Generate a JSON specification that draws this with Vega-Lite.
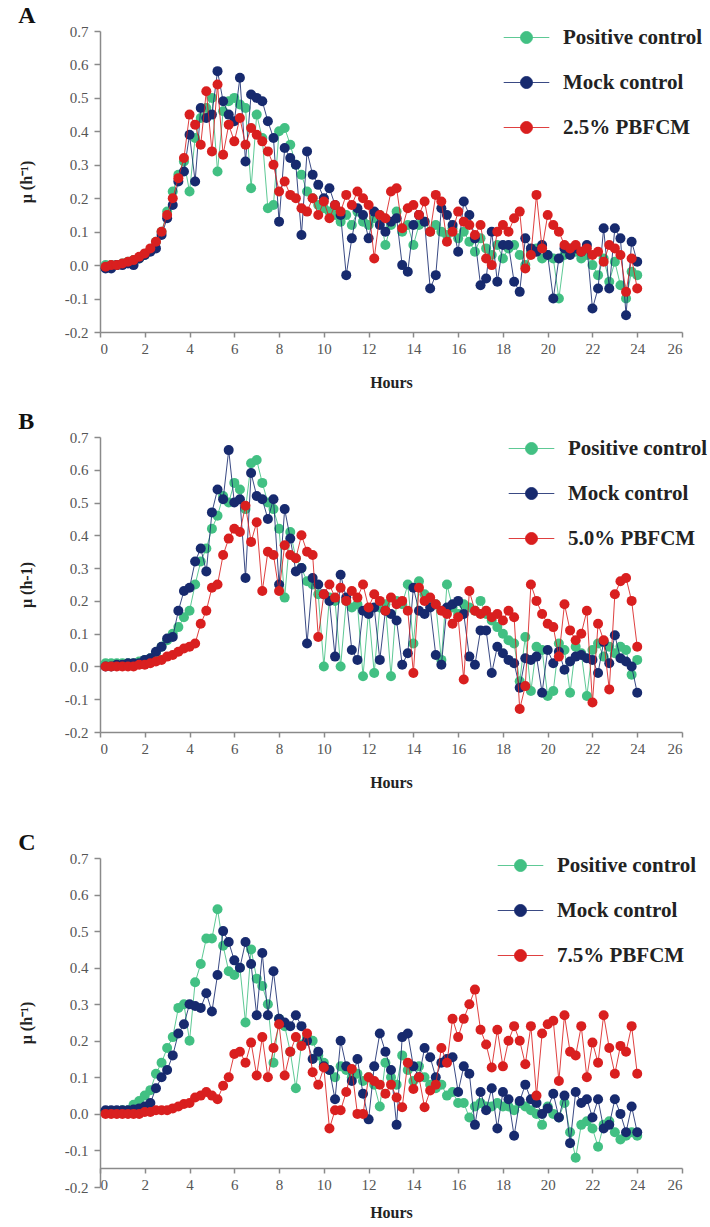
{
"$schema": "https://vega.github.io/schema/vega-lite/v6.json",
"background": "white",
"padding": {"left": 18, "top": 4, "right": 0, "bottom": 0},
"config": {
 "view": {"stroke": null},
 "font": "Liberation Serif",
 "title": {"font": "Liberation Serif", "fontSize": 24, "fontWeight": "bold", "anchor": "start", "frame": "bounds", "color": "#111", "offset": -4},
 "axis": {"grid": false, "domainColor": "#8a8a8a", "domainWidth": 1.5, "tickColor": "#8a8a8a", "tickWidth": 1.5, "tickSize": 5, "labelFont": "Liberation Serif", "labelFontSize": 15, "labelColor": "#555", "titleFont": "Liberation Serif", "titleFontSize": 16, "titleFontWeight": "bold", "titleColor": "#222"},
 "axisX": {"labelPadding": 4, "titlePadding": 18},
 "axisY": {"titlePadding": 30, "labelPadding": 6, "tickSize": 6},
 "legend": {"labelFont": "Liberation Serif", "labelFontSize": 21, "labelFontWeight": "bold", "labelColor": "#222", "labelOffset": 26, "rowPadding": 23, "symbolStrokeWidth": 2},
 "line": {"strokeWidth": 1, "strokeOpacity": 0.85}
},
"spacing": 20,
"resolve": {"scale": {"color": "independent"}, "legend": {"color": "independent"}},
"datasets": {
"A_pos": [{"h":0.25,"mu":0},{"h":0.5,"mu":0},{"h":0.75,"mu":0},{"h":1,"mu":0.005},{"h":1.25,"mu":0.01},{"h":1.5,"mu":0.015},{"h":1.75,"mu":0.02},{"h":2,"mu":0.03},{"h":2.25,"mu":0.045},{"h":2.5,"mu":0.07},{"h":2.75,"mu":0.1},{"h":3,"mu":0.16},{"h":3.25,"mu":0.22},{"h":3.5,"mu":0.27},{"h":3.75,"mu":0.31},{"h":4,"mu":0.22},{"h":4.25,"mu":0.38},{"h":4.5,"mu":0.44},{"h":4.75,"mu":0.47},{"h":5,"mu":0.5},{"h":5.25,"mu":0.28},{"h":5.5,"mu":0.46},{"h":5.75,"mu":0.49},{"h":6,"mu":0.5},{"h":6.25,"mu":0.48},{"h":6.5,"mu":0.47},{"h":6.75,"mu":0.23},{"h":7,"mu":0.45},{"h":7.25,"mu":0.38},{"h":7.5,"mu":0.17},{"h":7.75,"mu":0.18},{"h":8,"mu":0.4},{"h":8.25,"mu":0.41},{"h":8.5,"mu":0.36},{"h":8.75,"mu":0.3},{"h":9,"mu":0.27},{"h":9.25,"mu":0.22},{"h":9.5,"mu":0.2},{"h":9.75,"mu":0.18},{"h":10,"mu":0.17},{"h":10.25,"mu":0.16},{"h":10.5,"mu":0.15},{"h":10.75,"mu":0.13},{"h":11,"mu":0.15},{"h":11.25,"mu":0.12},{"h":11.5,"mu":0.16},{"h":11.75,"mu":0.13},{"h":12,"mu":0.12},{"h":12.25,"mu":0.14},{"h":12.5,"mu":0.15},{"h":12.75,"mu":0.06},{"h":13,"mu":0.12},{"h":13.25,"mu":0.16},{"h":13.5,"mu":0.1},{"h":13.75,"mu":0.12},{"h":14,"mu":0.06},{"h":14.25,"mu":0.12},{"h":14.5,"mu":0.13},{"h":14.75,"mu":0.1},{"h":15,"mu":0.12},{"h":15.25,"mu":0.1},{"h":15.5,"mu":0.09},{"h":15.75,"mu":0.11},{"h":16,"mu":0.08},{"h":16.25,"mu":0.1},{"h":16.5,"mu":0.07},{"h":16.75,"mu":0.04},{"h":17,"mu":0.08},{"h":17.25,"mu":0.05},{"h":17.5,"mu":0.03},{"h":17.75,"mu":0.06},{"h":18,"mu":0.02},{"h":18.25,"mu":0.05},{"h":18.5,"mu":0.06},{"h":18.75,"mu":0.03},{"h":19,"mu":0},{"h":19.25,"mu":0.04},{"h":19.5,"mu":0.05},{"h":19.75,"mu":0.02},{"h":20,"mu":0.03},{"h":20.25,"mu":0.02},{"h":20.5,"mu":-0.1},{"h":20.75,"mu":0.03},{"h":21,"mu":0.05},{"h":21.25,"mu":0.04},{"h":21.5,"mu":0.02},{"h":21.75,"mu":0.03},{"h":22,"mu":0},{"h":22.25,"mu":-0.03},{"h":22.5,"mu":0.02},{"h":22.75,"mu":-0.05},{"h":23,"mu":0.01},{"h":23.25,"mu":-0.06},{"h":23.5,"mu":-0.1},{"h":23.75,"mu":-0.02},{"h":24,"mu":-0.03}],
"A_mock": [{"h":0.25,"mu":-0.01},{"h":0.5,"mu":-0.01},{"h":0.75,"mu":0},{"h":1,"mu":0},{"h":1.25,"mu":0.005},{"h":1.5,"mu":0},{"h":1.75,"mu":0.02},{"h":2,"mu":0.03},{"h":2.25,"mu":0.04},{"h":2.5,"mu":0.05},{"h":2.75,"mu":0.09},{"h":3,"mu":0.14},{"h":3.25,"mu":0.18},{"h":3.5,"mu":0.25},{"h":3.75,"mu":0.28},{"h":4,"mu":0.39},{"h":4.25,"mu":0.25},{"h":4.5,"mu":0.47},{"h":4.75,"mu":0.44},{"h":5,"mu":0.45},{"h":5.25,"mu":0.58},{"h":5.5,"mu":0.49},{"h":5.75,"mu":0.45},{"h":6,"mu":0.43},{"h":6.25,"mu":0.56},{"h":6.5,"mu":0.31},{"h":6.75,"mu":0.51},{"h":7,"mu":0.5},{"h":7.25,"mu":0.49},{"h":7.5,"mu":0.43},{"h":7.75,"mu":0.38},{"h":8,"mu":0.13},{"h":8.25,"mu":0.35},{"h":8.5,"mu":0.32},{"h":8.75,"mu":0.3},{"h":9,"mu":0.09},{"h":9.25,"mu":0.34},{"h":9.5,"mu":0.27},{"h":9.75,"mu":0.24},{"h":10,"mu":0.2},{"h":10.25,"mu":0.23},{"h":10.5,"mu":0.18},{"h":10.75,"mu":0.15},{"h":11,"mu":-0.03},{"h":11.25,"mu":0.08},{"h":11.5,"mu":0.17},{"h":11.75,"mu":0.15},{"h":12,"mu":0.08},{"h":12.25,"mu":0.16},{"h":12.5,"mu":0.12},{"h":12.75,"mu":0.1},{"h":13,"mu":0.13},{"h":13.25,"mu":0.14},{"h":13.5,"mu":0},{"h":13.75,"mu":-0.02},{"h":14,"mu":0.12},{"h":14.25,"mu":0.15},{"h":14.5,"mu":0.13},{"h":14.75,"mu":-0.07},{"h":15,"mu":-0.03},{"h":15.25,"mu":0.17},{"h":15.5,"mu":0.15},{"h":15.75,"mu":0.12},{"h":16,"mu":0.04},{"h":16.25,"mu":0.19},{"h":16.5,"mu":0.15},{"h":16.75,"mu":0.08},{"h":17,"mu":-0.06},{"h":17.25,"mu":-0.04},{"h":17.5,"mu":0.1},{"h":17.75,"mu":-0.05},{"h":18,"mu":0.06},{"h":18.25,"mu":0.06},{"h":18.5,"mu":-0.05},{"h":18.75,"mu":-0.08},{"h":19,"mu":0.08},{"h":19.25,"mu":0.05},{"h":19.5,"mu":0.04},{"h":19.75,"mu":0.06},{"h":20,"mu":0.03},{"h":20.25,"mu":-0.1},{"h":20.5,"mu":0.02},{"h":20.75,"mu":0.05},{"h":21,"mu":0.03},{"h":21.25,"mu":0.05},{"h":21.5,"mu":0.04},{"h":21.75,"mu":0.06},{"h":22,"mu":-0.13},{"h":22.25,"mu":-0.07},{"h":22.5,"mu":0.11},{"h":22.75,"mu":-0.07},{"h":23,"mu":0.11},{"h":23.25,"mu":0.08},{"h":23.5,"mu":-0.15},{"h":23.75,"mu":0.07},{"h":24,"mu":0.01}],
"A_pbf": [{"h":0.25,"mu":-0.005},{"h":0.5,"mu":0},{"h":0.75,"mu":0},{"h":1,"mu":0.005},{"h":1.25,"mu":0.01},{"h":1.5,"mu":0.015},{"h":1.75,"mu":0.025},{"h":2,"mu":0.035},{"h":2.25,"mu":0.05},{"h":2.5,"mu":0.07},{"h":2.75,"mu":0.1},{"h":3,"mu":0.15},{"h":3.25,"mu":0.2},{"h":3.5,"mu":0.26},{"h":3.75,"mu":0.32},{"h":4,"mu":0.45},{"h":4.25,"mu":0.42},{"h":4.5,"mu":0.36},{"h":4.75,"mu":0.52},{"h":5,"mu":0.34},{"h":5.25,"mu":0.54},{"h":5.5,"mu":0.33},{"h":5.75,"mu":0.42},{"h":6,"mu":0.37},{"h":6.25,"mu":0.44},{"h":6.5,"mu":0.36},{"h":6.75,"mu":0.41},{"h":7,"mu":0.39},{"h":7.25,"mu":0.37},{"h":7.5,"mu":0.34},{"h":7.75,"mu":0.3},{"h":8,"mu":0.22},{"h":8.25,"mu":0.25},{"h":8.5,"mu":0.21},{"h":8.75,"mu":0.2},{"h":9,"mu":0.17},{"h":9.25,"mu":0.16},{"h":9.5,"mu":0.2},{"h":9.75,"mu":0.15},{"h":10,"mu":0.19},{"h":10.25,"mu":0.14},{"h":10.5,"mu":0.18},{"h":10.75,"mu":0.16},{"h":11,"mu":0.21},{"h":11.25,"mu":0.18},{"h":11.5,"mu":0.22},{"h":11.75,"mu":0.2},{"h":12,"mu":0.18},{"h":12.25,"mu":0.02},{"h":12.5,"mu":0.15},{"h":12.75,"mu":0.14},{"h":13,"mu":0.22},{"h":13.25,"mu":0.23},{"h":13.5,"mu":0.11},{"h":13.75,"mu":0.17},{"h":14,"mu":0.18},{"h":14.25,"mu":0.15},{"h":14.5,"mu":0.19},{"h":14.75,"mu":0.1},{"h":15,"mu":0.21},{"h":15.25,"mu":0.19},{"h":15.5,"mu":0.07},{"h":15.75,"mu":0.1},{"h":16,"mu":0.16},{"h":16.25,"mu":0.13},{"h":16.5,"mu":0.12},{"h":16.75,"mu":0.09},{"h":17,"mu":0.12},{"h":17.25,"mu":0.02},{"h":17.5,"mu":0},{"h":17.75,"mu":0.1},{"h":18,"mu":0.12},{"h":18.25,"mu":0.1},{"h":18.5,"mu":0.14},{"h":18.75,"mu":0.16},{"h":19,"mu":-0.01},{"h":19.25,"mu":0.03},{"h":19.5,"mu":0.21},{"h":19.75,"mu":0.05},{"h":20,"mu":0.15},{"h":20.25,"mu":0.12},{"h":20.5,"mu":0.1},{"h":20.75,"mu":0.06},{"h":21,"mu":0.05},{"h":21.25,"mu":0.06},{"h":21.5,"mu":0.04},{"h":21.75,"mu":0.05},{"h":22,"mu":0.03},{"h":22.25,"mu":0.04},{"h":22.5,"mu":0.01},{"h":22.75,"mu":0.06},{"h":23,"mu":0.05},{"h":23.25,"mu":0.03},{"h":23.5,"mu":-0.08},{"h":23.75,"mu":0.02},{"h":24,"mu":-0.07}],
"B_pos": [{"h":0.25,"mu":0.01},{"h":0.5,"mu":0.01},{"h":0.75,"mu":0.01},{"h":1,"mu":0.01},{"h":1.25,"mu":0.01},{"h":1.5,"mu":0.01},{"h":1.75,"mu":0.015},{"h":2,"mu":0.02},{"h":2.25,"mu":0.025},{"h":2.5,"mu":0.04},{"h":2.75,"mu":0.06},{"h":3,"mu":0.08},{"h":3.25,"mu":0.1},{"h":3.5,"mu":0.12},{"h":3.75,"mu":0.15},{"h":4,"mu":0.17},{"h":4.25,"mu":0.25},{"h":4.5,"mu":0.32},{"h":4.75,"mu":0.36},{"h":5,"mu":0.42},{"h":5.25,"mu":0.46},{"h":5.5,"mu":0.52},{"h":5.75,"mu":0.5},{"h":6,"mu":0.56},{"h":6.25,"mu":0.54},{"h":6.5,"mu":0.48},{"h":6.75,"mu":0.62},{"h":7,"mu":0.63},{"h":7.25,"mu":0.56},{"h":7.5,"mu":0.5},{"h":7.75,"mu":0.48},{"h":8,"mu":0.42},{"h":8.25,"mu":0.21},{"h":8.5,"mu":0.41},{"h":8.75,"mu":0.33},{"h":9,"mu":0.3},{"h":9.25,"mu":0.26},{"h":9.5,"mu":0.25},{"h":9.75,"mu":0.22},{"h":10,"mu":0},{"h":10.25,"mu":0.21},{"h":10.5,"mu":0.2},{"h":10.75,"mu":0},{"h":11,"mu":0.2},{"h":11.25,"mu":0.18},{"h":11.5,"mu":0.19},{"h":11.75,"mu":-0.03},{"h":12,"mu":0.17},{"h":12.25,"mu":-0.02},{"h":12.5,"mu":0.18},{"h":12.75,"mu":0.19},{"h":13,"mu":-0.03},{"h":13.25,"mu":0.2},{"h":13.5,"mu":0.19},{"h":13.75,"mu":0.25},{"h":14,"mu":0.07},{"h":14.25,"mu":0.26},{"h":14.5,"mu":0.22},{"h":14.75,"mu":0.2},{"h":15,"mu":0.19},{"h":15.25,"mu":0.02},{"h":15.5,"mu":0.25},{"h":15.75,"mu":0.18},{"h":16,"mu":0.16},{"h":16.25,"mu":0.19},{"h":16.5,"mu":0.18},{"h":16.75,"mu":0.17},{"h":17,"mu":0.2},{"h":17.25,"mu":0.16},{"h":17.5,"mu":0.14},{"h":17.75,"mu":0.12},{"h":18,"mu":0.1},{"h":18.25,"mu":0.08},{"h":18.5,"mu":0.07},{"h":18.75,"mu":-0.045},{"h":19,"mu":0.09},{"h":19.25,"mu":-0.075},{"h":19.5,"mu":0.06},{"h":19.75,"mu":0.05},{"h":20,"mu":-0.09},{"h":20.25,"mu":-0.075},{"h":20.5,"mu":0.07},{"h":20.75,"mu":0.05},{"h":21,"mu":-0.08},{"h":21.25,"mu":0.06},{"h":21.5,"mu":0.04},{"h":21.75,"mu":-0.09},{"h":22,"mu":0.05},{"h":22.25,"mu":0.07},{"h":22.5,"mu":0.03},{"h":22.75,"mu":0.06},{"h":23,"mu":0.04},{"h":23.25,"mu":0.06},{"h":23.5,"mu":0.05},{"h":23.75,"mu":-0.025},{"h":24,"mu":0.02}],
"B_mock": [{"h":0.25,"mu":0},{"h":0.5,"mu":0},{"h":0.75,"mu":0.005},{"h":1,"mu":0.005},{"h":1.25,"mu":0.01},{"h":1.5,"mu":0.01},{"h":1.75,"mu":0.01},{"h":2,"mu":0.02},{"h":2.25,"mu":0.025},{"h":2.5,"mu":0.045},{"h":2.75,"mu":0.06},{"h":3,"mu":0.085},{"h":3.25,"mu":0.09},{"h":3.5,"mu":0.17},{"h":3.75,"mu":0.23},{"h":4,"mu":0.24},{"h":4.25,"mu":0.32},{"h":4.5,"mu":0.36},{"h":4.75,"mu":0.29},{"h":5,"mu":0.47},{"h":5.25,"mu":0.54},{"h":5.5,"mu":0.51},{"h":5.75,"mu":0.66},{"h":6,"mu":0.5},{"h":6.25,"mu":0.51},{"h":6.5,"mu":0.27},{"h":6.75,"mu":0.59},{"h":7,"mu":0.52},{"h":7.25,"mu":0.51},{"h":7.5,"mu":0.45},{"h":7.75,"mu":0.51},{"h":8,"mu":0.25},{"h":8.25,"mu":0.48},{"h":8.5,"mu":0.39},{"h":8.75,"mu":0.29},{"h":9,"mu":0.3},{"h":9.25,"mu":0.07},{"h":9.5,"mu":0.27},{"h":9.75,"mu":0.25},{"h":10,"mu":0.22},{"h":10.25,"mu":0.2},{"h":10.5,"mu":0.03},{"h":10.75,"mu":0.28},{"h":11,"mu":0.21},{"h":11.25,"mu":0.05},{"h":11.5,"mu":0.02},{"h":11.75,"mu":0.17},{"h":12,"mu":0.16},{"h":12.25,"mu":0.18},{"h":12.5,"mu":0.02},{"h":12.75,"mu":0.17},{"h":13,"mu":0.16},{"h":13.25,"mu":0.14},{"h":13.5,"mu":0.005},{"h":13.75,"mu":0.04},{"h":14,"mu":0.24},{"h":14.25,"mu":0.17},{"h":14.5,"mu":0.16},{"h":14.75,"mu":0.18},{"h":15,"mu":0.035},{"h":15.25,"mu":0.005},{"h":15.5,"mu":0.18},{"h":15.75,"mu":0.19},{"h":16,"mu":0.2},{"h":16.25,"mu":0.16},{"h":16.5,"mu":0.03},{"h":16.75,"mu":0.005},{"h":17,"mu":0.11},{"h":17.25,"mu":0.11},{"h":17.5,"mu":-0.02},{"h":17.75,"mu":0.06},{"h":18,"mu":0.04},{"h":18.25,"mu":0.02},{"h":18.5,"mu":0.01},{"h":18.75,"mu":-0.065},{"h":19,"mu":0.025},{"h":19.25,"mu":0.02},{"h":19.5,"mu":0.03},{"h":19.75,"mu":-0.08},{"h":20,"mu":0.05},{"h":20.25,"mu":0.01},{"h":20.5,"mu":0.045},{"h":20.75,"mu":-0.01},{"h":21,"mu":0.015},{"h":21.25,"mu":0.03},{"h":21.5,"mu":0.035},{"h":21.75,"mu":0.025},{"h":22,"mu":0.02},{"h":22.25,"mu":-0.02},{"h":22.5,"mu":0.075},{"h":22.75,"mu":0.01},{"h":23,"mu":0.095},{"h":23.25,"mu":0.025},{"h":23.5,"mu":0.015},{"h":23.75,"mu":0},{"h":24,"mu":-0.08}],
"B_pbf": [{"h":0.25,"mu":0},{"h":0.5,"mu":0},{"h":0.75,"mu":0},{"h":1,"mu":0},{"h":1.25,"mu":0},{"h":1.5,"mu":0},{"h":1.75,"mu":0.005},{"h":2,"mu":0.005},{"h":2.25,"mu":0.01},{"h":2.5,"mu":0.015},{"h":2.75,"mu":0.02},{"h":3,"mu":0.03},{"h":3.25,"mu":0.035},{"h":3.5,"mu":0.045},{"h":3.75,"mu":0.055},{"h":4,"mu":0.06},{"h":4.25,"mu":0.07},{"h":4.5,"mu":0.13},{"h":4.75,"mu":0.17},{"h":5,"mu":0.24},{"h":5.25,"mu":0.25},{"h":5.5,"mu":0.34},{"h":5.75,"mu":0.39},{"h":6,"mu":0.42},{"h":6.25,"mu":0.41},{"h":6.5,"mu":0.49},{"h":6.75,"mu":0.38},{"h":7,"mu":0.44},{"h":7.25,"mu":0.23},{"h":7.5,"mu":0.35},{"h":7.75,"mu":0.34},{"h":8,"mu":0.23},{"h":8.25,"mu":0.37},{"h":8.5,"mu":0.34},{"h":8.75,"mu":0.33},{"h":9,"mu":0.4},{"h":9.25,"mu":0.35},{"h":9.5,"mu":0.34},{"h":9.75,"mu":0.09},{"h":10,"mu":0.22},{"h":10.25,"mu":0.25},{"h":10.5,"mu":0.21},{"h":10.75,"mu":0.24},{"h":11,"mu":0.2},{"h":11.25,"mu":0.23},{"h":11.5,"mu":0.21},{"h":11.75,"mu":0.25},{"h":12,"mu":0.18},{"h":12.25,"mu":0.22},{"h":12.5,"mu":0.2},{"h":12.75,"mu":0.17},{"h":13,"mu":0.21},{"h":13.25,"mu":0.19},{"h":13.5,"mu":0.2},{"h":13.75,"mu":0.17},{"h":14,"mu":-0.02},{"h":14.25,"mu":0.24},{"h":14.5,"mu":0.2},{"h":14.75,"mu":0.21},{"h":15,"mu":0.19},{"h":15.25,"mu":0.17},{"h":15.5,"mu":0.16},{"h":15.75,"mu":0.13},{"h":16,"mu":0.15},{"h":16.25,"mu":-0.04},{"h":16.5,"mu":0.23},{"h":16.75,"mu":0.17},{"h":17,"mu":0.16},{"h":17.25,"mu":0.17},{"h":17.5,"mu":0.15},{"h":17.75,"mu":0.16},{"h":18,"mu":0.14},{"h":18.25,"mu":0.17},{"h":18.5,"mu":0.15},{"h":18.75,"mu":-0.13},{"h":19,"mu":-0.06},{"h":19.25,"mu":0.25},{"h":19.5,"mu":0.2},{"h":19.75,"mu":0.16},{"h":20,"mu":0.13},{"h":20.25,"mu":0.12},{"h":20.5,"mu":0.03},{"h":20.75,"mu":0.19},{"h":21,"mu":0.11},{"h":21.25,"mu":0.08},{"h":21.5,"mu":0.1},{"h":21.75,"mu":0.17},{"h":22,"mu":-0.11},{"h":22.25,"mu":0.13},{"h":22.5,"mu":0.08},{"h":22.75,"mu":-0.07},{"h":23,"mu":0.22},{"h":23.25,"mu":0.26},{"h":23.5,"mu":0.27},{"h":23.75,"mu":0.2},{"h":24,"mu":0.06}],
"C_pos": [{"h":0.25,"mu":0.005},{"h":0.5,"mu":0.005},{"h":0.75,"mu":0.005},{"h":1,"mu":0.01},{"h":1.25,"mu":0.01},{"h":1.5,"mu":0.025},{"h":1.75,"mu":0.035},{"h":2,"mu":0.05},{"h":2.25,"mu":0.065},{"h":2.5,"mu":0.11},{"h":2.75,"mu":0.14},{"h":3,"mu":0.18},{"h":3.25,"mu":0.21},{"h":3.5,"mu":0.29},{"h":3.75,"mu":0.3},{"h":4,"mu":0.2},{"h":4.25,"mu":0.36},{"h":4.5,"mu":0.41},{"h":4.75,"mu":0.48},{"h":5,"mu":0.48},{"h":5.25,"mu":0.56},{"h":5.5,"mu":0.46},{"h":5.75,"mu":0.39},{"h":6,"mu":0.38},{"h":6.25,"mu":0.4},{"h":6.5,"mu":0.25},{"h":6.75,"mu":0.45},{"h":7,"mu":0.37},{"h":7.25,"mu":0.35},{"h":7.5,"mu":0.3},{"h":7.75,"mu":0.14},{"h":8,"mu":0.26},{"h":8.25,"mu":0.24},{"h":8.5,"mu":0.17},{"h":8.75,"mu":0.07},{"h":9,"mu":0.19},{"h":9.25,"mu":0.21},{"h":9.5,"mu":0.2},{"h":9.75,"mu":0.16},{"h":10,"mu":0.14},{"h":10.25,"mu":0.12},{"h":10.5,"mu":0.1},{"h":10.75,"mu":0.13},{"h":11,"mu":0.12},{"h":11.25,"mu":0.1},{"h":11.5,"mu":0.11},{"h":11.75,"mu":0.09},{"h":12,"mu":0.1},{"h":12.25,"mu":0.08},{"h":12.5,"mu":0.02},{"h":12.75,"mu":0.14},{"h":13,"mu":0.1},{"h":13.25,"mu":0.08},{"h":13.5,"mu":0.16},{"h":13.75,"mu":0.12},{"h":14,"mu":0.09},{"h":14.25,"mu":0.13},{"h":14.5,"mu":0.1},{"h":14.75,"mu":0.08},{"h":15,"mu":0.07},{"h":15.25,"mu":0.08},{"h":15.5,"mu":0.05},{"h":15.75,"mu":0.06},{"h":16,"mu":0.03},{"h":16.25,"mu":0.03},{"h":16.5,"mu":-0.01},{"h":16.75,"mu":0.02},{"h":17,"mu":0.03},{"h":17.25,"mu":0.02},{"h":17.5,"mu":0.02},{"h":17.75,"mu":0.03},{"h":18,"mu":0.02},{"h":18.25,"mu":0.02},{"h":18.5,"mu":0.01},{"h":18.75,"mu":0.03},{"h":19,"mu":0.02},{"h":19.25,"mu":0.01},{"h":19.5,"mu":0},{"h":19.75,"mu":-0.03},{"h":20,"mu":0.02},{"h":20.25,"mu":0},{"h":20.5,"mu":-0.01},{"h":20.75,"mu":0.03},{"h":21,"mu":-0.05},{"h":21.25,"mu":-0.12},{"h":21.5,"mu":-0.03},{"h":21.75,"mu":-0.02},{"h":22,"mu":-0.04},{"h":22.25,"mu":-0.09},{"h":22.5,"mu":-0.03},{"h":22.75,"mu":-0.02},{"h":23,"mu":-0.05},{"h":23.25,"mu":-0.07},{"h":23.5,"mu":-0.06},{"h":23.75,"mu":-0.05},{"h":24,"mu":-0.06}],
"C_mock": [{"h":0.25,"mu":0.01},{"h":0.5,"mu":0.01},{"h":0.75,"mu":0.01},{"h":1,"mu":0.01},{"h":1.25,"mu":0.01},{"h":1.5,"mu":0.012},{"h":1.75,"mu":0.015},{"h":2,"mu":0.02},{"h":2.25,"mu":0.03},{"h":2.5,"mu":0.07},{"h":2.75,"mu":0.1},{"h":3,"mu":0.12},{"h":3.25,"mu":0.16},{"h":3.5,"mu":0.22},{"h":3.75,"mu":0.245},{"h":4,"mu":0.3},{"h":4.25,"mu":0.295},{"h":4.5,"mu":0.29},{"h":4.75,"mu":0.33},{"h":5,"mu":0.28},{"h":5.25,"mu":0.38},{"h":5.5,"mu":0.5},{"h":5.75,"mu":0.47},{"h":6,"mu":0.42},{"h":6.25,"mu":0.4},{"h":6.5,"mu":0.47},{"h":6.75,"mu":0.41},{"h":7,"mu":0.27},{"h":7.25,"mu":0.44},{"h":7.5,"mu":0.27},{"h":7.75,"mu":0.39},{"h":8,"mu":0.26},{"h":8.25,"mu":0.25},{"h":8.5,"mu":0.24},{"h":8.75,"mu":0.27},{"h":9,"mu":0.24},{"h":9.25,"mu":0.2},{"h":9.5,"mu":0.15},{"h":9.75,"mu":0.17},{"h":10,"mu":0.13},{"h":10.25,"mu":0.12},{"h":10.5,"mu":0.04},{"h":10.75,"mu":0.2},{"h":11,"mu":0.13},{"h":11.25,"mu":0.09},{"h":11.5,"mu":0.15},{"h":11.75,"mu":0.055},{"h":12,"mu":-0.015},{"h":12.25,"mu":0.13},{"h":12.5,"mu":0.22},{"h":12.75,"mu":0.17},{"h":13,"mu":0.12},{"h":13.25,"mu":-0.03},{"h":13.5,"mu":0.21},{"h":13.75,"mu":0.22},{"h":14,"mu":0.13},{"h":14.25,"mu":0.1},{"h":14.5,"mu":0.18},{"h":14.75,"mu":0.155},{"h":15,"mu":0.1},{"h":15.25,"mu":0.14},{"h":15.5,"mu":0.15},{"h":15.75,"mu":0.155},{"h":16,"mu":0.06},{"h":16.25,"mu":0.13},{"h":16.5,"mu":0.11},{"h":16.75,"mu":-0.03},{"h":17,"mu":0.06},{"h":17.25,"mu":0.01},{"h":17.5,"mu":0.07},{"h":17.75,"mu":-0.04},{"h":18,"mu":0.06},{"h":18.25,"mu":0.04},{"h":18.5,"mu":-0.06},{"h":18.75,"mu":0.035},{"h":19,"mu":0.08},{"h":19.25,"mu":0.04},{"h":19.5,"mu":0.03},{"h":19.75,"mu":0},{"h":20,"mu":0.015},{"h":20.25,"mu":0.055},{"h":20.5,"mu":-0.01},{"h":20.75,"mu":0.05},{"h":21,"mu":-0.08},{"h":21.25,"mu":0.06},{"h":21.5,"mu":0.03},{"h":21.75,"mu":0.04},{"h":22,"mu":-0.01},{"h":22.25,"mu":0.04},{"h":22.5,"mu":-0.04},{"h":22.75,"mu":-0.03},{"h":23,"mu":0.04},{"h":23.25,"mu":0},{"h":23.5,"mu":-0.05},{"h":23.75,"mu":0.02},{"h":24,"mu":-0.05}],
"C_pbf": [{"h":0.25,"mu":0},{"h":0.5,"mu":0},{"h":0.75,"mu":0},{"h":1,"mu":0},{"h":1.25,"mu":0},{"h":1.5,"mu":0},{"h":1.75,"mu":0},{"h":2,"mu":0.005},{"h":2.25,"mu":0.005},{"h":2.5,"mu":0.01},{"h":2.75,"mu":0.01},{"h":3,"mu":0.01},{"h":3.25,"mu":0.015},{"h":3.5,"mu":0.02},{"h":3.75,"mu":0.027},{"h":4,"mu":0.03},{"h":4.25,"mu":0.045},{"h":4.5,"mu":0.05},{"h":4.75,"mu":0.06},{"h":5,"mu":0.05},{"h":5.25,"mu":0.04},{"h":5.5,"mu":0.077},{"h":5.75,"mu":0.1},{"h":6,"mu":0.164},{"h":6.25,"mu":0.17},{"h":6.5,"mu":0.14},{"h":6.75,"mu":0.195},{"h":7,"mu":0.105},{"h":7.25,"mu":0.21},{"h":7.5,"mu":0.1},{"h":7.75,"mu":0.18},{"h":8,"mu":0.245},{"h":8.25,"mu":0.105},{"h":8.5,"mu":0.17},{"h":8.75,"mu":0.21},{"h":9,"mu":0.186},{"h":9.25,"mu":0.22},{"h":9.5,"mu":0.114},{"h":9.75,"mu":0.08},{"h":10,"mu":0.127},{"h":10.25,"mu":-0.04},{"h":10.5,"mu":0.01},{"h":10.75,"mu":0.01},{"h":11,"mu":0.06},{"h":11.25,"mu":0.123},{"h":11.5,"mu":0},{"h":11.75,"mu":0},{"h":12,"mu":0.1},{"h":12.25,"mu":0.09},{"h":12.5,"mu":0.08},{"h":12.75,"mu":0.055},{"h":13,"mu":0.08},{"h":13.25,"mu":0.045},{"h":13.5,"mu":0.018},{"h":13.75,"mu":0.14},{"h":14,"mu":0.068},{"h":14.25,"mu":0.1},{"h":14.5,"mu":0.018},{"h":14.75,"mu":0.064},{"h":15,"mu":0.08},{"h":15.25,"mu":0.18},{"h":15.5,"mu":0.14},{"h":15.75,"mu":0.26},{"h":16,"mu":0.21},{"h":16.25,"mu":0.26},{"h":16.5,"mu":0.3},{"h":16.75,"mu":0.34},{"h":17,"mu":0.23},{"h":17.25,"mu":0.19},{"h":17.5,"mu":0.127},{"h":17.75,"mu":0.23},{"h":18,"mu":0.13},{"h":18.25,"mu":0.2},{"h":18.5,"mu":0.24},{"h":18.75,"mu":0.2},{"h":19,"mu":0.136},{"h":19.25,"mu":0.24},{"h":19.5,"mu":0.05},{"h":19.75,"mu":0.22},{"h":20,"mu":0.245},{"h":20.25,"mu":0.255},{"h":20.5,"mu":0.09},{"h":20.75,"mu":0.27},{"h":21,"mu":0.17},{"h":21.25,"mu":0.16},{"h":21.5,"mu":0.24},{"h":21.75,"mu":0.1},{"h":22,"mu":0.195},{"h":22.25,"mu":0.14},{"h":22.5,"mu":0.27},{"h":22.75,"mu":0.18},{"h":23,"mu":0.11},{"h":23.25,"mu":0.186},{"h":23.5,"mu":0.17},{"h":23.75,"mu":0.24},{"h":24,"mu":0.11}]
},
"vconcat": [
{
 "width": 582, "height": 301,
 "title": {"text": "A"},
 "encoding": {
  "x": {"field": "h", "type": "quantitative", "scale": {"domain": [0, 26], "nice": false}, "axis": {"values": [0,2,4,6,8,10,12,14,16,18,20,22,24,26], "title": "Hours"}},
  "y": {"field": "mu", "type": "quantitative", "scale": {"domain": [-0.2, 0.7], "nice": false}, "axis": {"values": [-0.2,-0.1,0,0.1,0.2,0.3,0.4,0.5,0.6,0.7], "labelExpr": "replace(format(datum.value, '.1f'), '\u2212', '-')", "title": "μ (h⁻¹)"}}
 },
 "layer": [
  {"data": {"name": "A_pos"}, "mark": {"type": "line", "point": {"filled": true, "size": 100, "opacity": 1}},
   "encoding": {"color": {"datum": "Positive control", "type": "nominal",
    "scale": {"domain": ["Positive control", "Mock control", "2.5% PBFCM"], "range": ["#42c083", "#172a6e", "#d91f1f"]},
    "legend": {"orient": "none", "legendX": 416, "legendY": -4, "title": null,
     "symbolType": "M-3.8,0L3.8,0M-1,0A1,1,0,1,1,1,0A1,1,0,1,1,-1,0Z", "symbolSize": 144,
     "encode": {"symbols": {"update": {
      "fill": [{"test": "datum.value === 'Positive control'", "value": "#42c083"}, {"test": "datum.value === 'Mock control'", "value": "#172a6e"}, {"value": "#d91f1f"}],
      "stroke": [{"test": "datum.value === 'Positive control'", "value": "#42c083"}, {"test": "datum.value === 'Mock control'", "value": "#172a6e"}, {"value": "#d91f1f"}],
      "strokeWidth": {"value": 2}, "opacity": {"value": 1}}}}}}}},
  {"data": {"name": "A_mock"}, "mark": {"type": "line", "point": {"filled": true, "size": 100, "opacity": 1}},
   "encoding": {"color": {"datum": "Mock control", "type": "nominal"}}},
  {"data": {"name": "A_pbf"}, "mark": {"type": "line", "point": {"filled": true, "size": 100, "opacity": 1}},
   "encoding": {"color": {"datum": "2.5% PBFCM", "type": "nominal"}}}
 ]
},
{
 "spacing": 41,
 "resolve": {"scale": {"color": "independent"}, "legend": {"color": "independent"}},
 "vconcat": [
 {
  "width": 582, "height": 295,
  "title": {"text": "B"},
  "encoding": {
   "x": {"field": "h", "type": "quantitative", "scale": {"domain": [0, 26], "nice": false}, "axis": {"values": [0,2,4,6,8,10,12,14,16,18,20,22,24,26], "title": "Hours"}},
   "y": {"field": "mu", "type": "quantitative", "scale": {"domain": [-0.2, 0.7], "nice": false}, "axis": {"values": [-0.2,-0.1,0,0.1,0.2,0.3,0.4,0.5,0.6,0.7], "labelExpr": "replace(format(datum.value, '.1f'), '\u2212', '-')", "title": "μ (h-1)"}}
  },
  "layer": [
   {"data": {"name": "B_pos"}, "mark": {"type": "line", "point": {"filled": true, "size": 100, "opacity": 1}},
    "encoding": {"color": {"datum": "Positive control", "type": "nominal",
     "scale": {"domain": ["Positive control", "Mock control", "5.0% PBFCM"], "range": ["#42c083", "#172a6e", "#d91f1f"]},
     "legend": {"orient": "none", "legendX": 421, "legendY": 1, "title": null,
      "symbolType": "M-3.8,0L3.8,0M-1,0A1,1,0,1,1,1,0A1,1,0,1,1,-1,0Z", "symbolSize": 144,
      "encode": {"symbols": {"update": {
       "fill": [{"test": "datum.value === 'Positive control'", "value": "#42c083"}, {"test": "datum.value === 'Mock control'", "value": "#172a6e"}, {"value": "#d91f1f"}],
       "stroke": [{"test": "datum.value === 'Positive control'", "value": "#42c083"}, {"test": "datum.value === 'Mock control'", "value": "#172a6e"}, {"value": "#d91f1f"}],
       "strokeWidth": {"value": 2}, "opacity": {"value": 1}}}}}}}},
   {"data": {"name": "B_mock"}, "mark": {"type": "line", "point": {"filled": true, "size": 100, "opacity": 1}},
    "encoding": {"color": {"datum": "Mock control", "type": "nominal"}}},
   {"data": {"name": "B_pbf"}, "mark": {"type": "line", "point": {"filled": true, "size": 100, "opacity": 1}},
    "encoding": {"color": {"datum": "5.0% PBFCM", "type": "nominal"}}}
  ]
 },
 {
  "width": 582, "height": 329,
  "title": {"text": "C"},
  "encoding": {
   "x": {"field": "h", "type": "quantitative", "scale": {"domain": [0, 26], "nice": false}, "axis": {"values": [0,2,4,6,8,10,12,14,16,18,20,22,24,26], "title": "Hours", "offset": -19, "titlePadding": 12}},
   "y": {"field": "mu", "type": "quantitative", "scale": {"domain": [-0.2, 0.7], "nice": false}, "axis": {"values": [-0.2,-0.1,0,0.1,0.2,0.3,0.4,0.5,0.6,0.7], "labelExpr": "replace(format(datum.value, '.1f'), '\u2212', '-')", "title": "μ (h⁻¹)"}}
  },
  "layer": [
   {"data": {"name": "C_pos"}, "mark": {"type": "line", "point": {"filled": true, "size": 100, "opacity": 1}},
    "encoding": {"color": {"datum": "Positive control", "type": "nominal",
     "scale": {"domain": ["Positive control", "Mock control", "7.5% PBFCM"], "range": ["#42c083", "#172a6e", "#d91f1f"]},
     "legend": {"orient": "none", "legendX": 410, "legendY": -3, "title": null,
      "symbolType": "M-3.8,0L3.8,0M-1,0A1,1,0,1,1,1,0A1,1,0,1,1,-1,0Z", "symbolSize": 144,
      "encode": {"symbols": {"update": {
       "fill": [{"test": "datum.value === 'Positive control'", "value": "#42c083"}, {"test": "datum.value === 'Mock control'", "value": "#172a6e"}, {"value": "#d91f1f"}],
       "stroke": [{"test": "datum.value === 'Positive control'", "value": "#42c083"}, {"test": "datum.value === 'Mock control'", "value": "#172a6e"}, {"value": "#d91f1f"}],
       "strokeWidth": {"value": 2}, "opacity": {"value": 1}}}}}}}},
   {"data": {"name": "C_mock"}, "mark": {"type": "line", "point": {"filled": true, "size": 100, "opacity": 1}},
    "encoding": {"color": {"datum": "Mock control", "type": "nominal"}}},
   {"data": {"name": "C_pbf"}, "mark": {"type": "line", "point": {"filled": true, "size": 100, "opacity": 1}},
    "encoding": {"color": {"datum": "7.5% PBFCM", "type": "nominal"}}}
  ]
 }
 ]
}
]
}
